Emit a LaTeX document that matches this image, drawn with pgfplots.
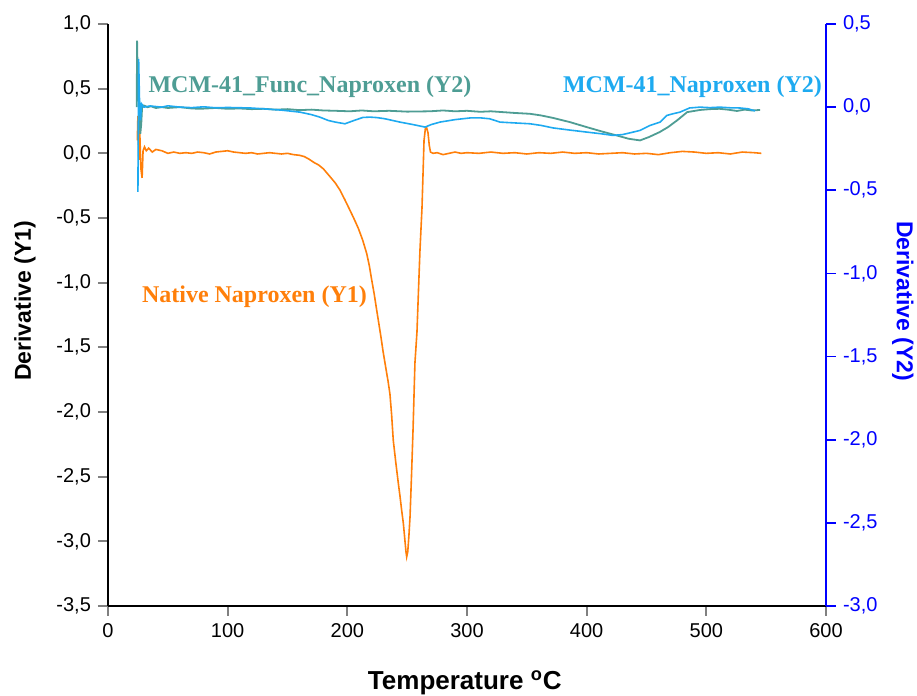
\documentclass[border=0pt]{standalone}
\usepackage{fontspec}
\setmainfont{Liberation Sans}
\newfontfamily\tms{Liberation Serif}
\usepackage{pgfplots}
\pgfplotsset{compat=1.18}

\definecolor{natcol}{HTML}{FF7F0A}
\definecolor{funccol}{HTML}{4E9D94}
\definecolor{mcmcol}{HTML}{1EAAF0}
\definecolor{y2col}{HTML}{0000FF}

\pgfplotsset{
  common/.style={
    width=359pt, height=291pt, scale only axis,
    at={(0,0)}, anchor=south west,
    xmin=0, xmax=600,
    tick align=outside, major tick length=5pt,
    tick style={line width=0.9pt},
    axis line style={line width=1pt},
    ticklabel style={font=\fontsize{10}{12}\selectfont},
    /pgf/number format/assume math mode=true,
    label style={font=\fontsize{11.5}{13}\selectfont\bfseries},
    yticklabel style={/pgf/number format/fixed, /pgf/number format/fixed zerofill,
      /pgf/number format/precision=1, /pgf/number format/use comma},
    clip=false,
  },
}

\begin{document}
\begin{tikzpicture}
% left axis (Y1)
\begin{axis}[common,
    axis x line*=bottom, axis y line*=left,
    ymin=-3.5, ymax=1.0,
    ytick={-3.5,-3,...,1.0},
    xtick={0,100,...,600},
    xlabel={Temperature \textsuperscript{o}C},
    ylabel={Derivative (Y1)},
    xlabel style={at={(axis description cs:0.497,-0.132)}, anchor=center,
      font=\fontsize{13}{15}\selectfont\bfseries},
    ylabel style={at={(axis description cs:-0.1156,0.524)}, anchor=center},
]
\addplot[natcol, line width=0.8pt] coordinates {
(24.5,0.10)(25.0,0.29)(25.8,-0.05)(26.5,0.18)(27.5,-0.12)(28.5,-0.19)(29.3,0.02)
(30.5,0.05)(32,0.02)(34,0.04)(37,0.01)(40,0.03)(45,0.02)(50,0.0)(55,0.01)(60,0.0)
(65,0.005)(70,0.0)(75,0.01)(80,0.005)(85,-0.005)(90,0.01)(95,0.015)(100,0.02)
(105,0.01)(110,0.005)(115,0.0)(120,0.005)(125,-0.005)(130,0.0)(135,0.005)(140,0.0)
(145,-0.005)(150,0.0)(155,-0.01)(160,-0.015)(164,-0.025)(168,-0.045)(172,-0.07)
(176,-0.09)(180,-0.12)(185.5,-0.18)(190,-0.23)(193.9,-0.285)(198,-0.36)(202.2,-0.44)
(205.8,-0.51)(209.2,-0.58)(212.8,-0.67)(216.2,-0.775)(218.4,-0.87)(220.4,-0.98)
(222.5,-1.09)(224.5,-1.21)(226.4,-1.32)(228.1,-1.42)(230,-1.54)(232,-1.65)
(234,-1.76)(235.6,-1.86)(237,-2.02)(238.4,-2.22)(240.5,-2.39)(242.6,-2.55)
(244,-2.65)(245.4,-2.76)(246.8,-2.86)(248,-2.98)(249,-3.08)(249.6,-3.12)
(250.5,-3.08)(251.5,-2.95)(252.4,-2.81)(253.6,-2.50)(254.9,-2.14)(256.5,-1.62)
(258.2,-1.38)(259.5,-1.05)(260.7,-0.75)(262.4,-0.42)(264.1,0.10)(265.2,0.19)(266.2,0.20)
(267.4,0.16)(268.5,0.06)(269.5,0.01)(271.6,0.0)(275,0.005)(280,-0.01)(285,0.0)
(290,0.01)(295,0.0)(300,0.005)(310,0.0)(320,0.01)(330,0.0)(340,0.005)(350,-0.005)
(360,0.005)(370,0.0)(380,0.01)(390,0.0)(400,0.005)(410,-0.005)(420,0.0)(430,0.005)
(440,-0.005)(450,0.0)(460,-0.01)(470,0.005)(480,0.015)(490,0.01)(500,0.0)(510,0.005)
(520,-0.005)(530,0.01)(540,0.005)(546,0.0)
};
\node[text=natcol, font=\tms\bfseries\fontsize{12}{14}\selectfont] at (axis cs:122.4,-1.106) {Native Naproxen (Y1)};
\node[text=funccol, font=\tms\bfseries\fontsize{12}{14}\selectfont] at (axis cs:168.8,0.518) {MCM-41\_Func\_Naproxen (Y2)};
\node[text=mcmcol, font=\tms\bfseries\fontsize{12}{14}\selectfont] at (axis cs:488.4,0.518) {MCM-41\_Naproxen (Y2)};
\end{axis}

% right axis (Y2)
\begin{axis}[common,
    axis x line=none, axis y line*=right,
    ymin=-3.0, ymax=0.5,
    ytick={-3,-2.5,...,0.5},
    axis line style={y2col, line width=1pt},
    ytick style={y2col},
    yticklabel style={/tikz/text=y2col},
    ylabel={Derivative (Y2)},
    ylabel style={text=y2col, at={(axis description cs:1.107,0.524)}, anchor=center, rotate=180},
]
\addplot[funccol, line width=0.9pt] coordinates {
(24.0,0.0)(24.3,0.40)(25.0,0.10)(26.0,0.02)(27.0,-0.16)(27.8,-0.10)(28.5,0.0)
(30,0.01)(33,0.0)(36,0.005)(40,-0.005)(45,0.0)(50,-0.005)(60,0.0)(70,-0.008)
(77,-0.01)(90,-0.005)(100,-0.01)(110,-0.008)(120,-0.012)(130,-0.01)(140,-0.015)
(150,-0.012)(160,-0.018)(170,-0.015)(180,-0.02)(190,-0.022)(202,-0.025)(212,-0.02)
(222,-0.025)(235,-0.022)(250,-0.027)(269,-0.025)(280,-0.02)(290,-0.025)(300,-0.022)
(311,-0.028)(320,-0.025)(330,-0.03)(340,-0.035)(352.6,-0.04)(362,-0.05)(372,-0.065)
(386,-0.09)(400,-0.12)(412,-0.145)(425,-0.17)(435,-0.19)(444.6,-0.20)(452,-0.18)
(461,-0.15)(468,-0.12)(475.5,-0.08)(484,-0.03)(494.7,-0.017)(503,-0.012)(511,-0.01)
(518,-0.015)(525.6,-0.023)(532,-0.015)(538,-0.02)(545,-0.017)
};
\addplot[mcmcol, line width=0.8pt] coordinates {
(25.0,-0.51)(25.6,0.29)(26.3,0.05)(27.2,-0.08)(28,0.02)(30,0.0)(35.1,0.007)
(45,0.0)(50,0.008)(60.2,0.0)(70,-0.003)(80,0.002)(90,-0.004)(100,-0.002)
(118.7,-0.005)(130,-0.01)(145,-0.018)(160.4,-0.03)(170,-0.045)(177,-0.06)
(184,-0.08)(190,-0.09)(198,-0.10)(206.4,-0.078)(213,-0.062)(219,-0.06)(225,-0.063)
(231.5,-0.07)(244,-0.09)(255,-0.105)(265,-0.12)(270,-0.105)(277.4,-0.09)(290,-0.075)
(302.5,-0.065)(312,-0.065)(319,-0.07)(327.6,-0.09)(340,-0.095)(352.6,-0.10)
(362,-0.11)(371.9,-0.125)(386,-0.138)(400,-0.15)(412,-0.16)(422,-0.17)(430,-0.165)
(436,-0.155)(444.6,-0.14)(453,-0.11)(461.3,-0.09)(467,-0.05)(472,-0.04)(478,-0.03)
(486,-0.005)(494.7,0.0)(503,-0.003)(511.4,0.0)(520,-0.004)(528,-0.005)(535,-0.01)
(540.7,-0.023)
};
\end{axis}
\pgfresetboundingbox
\path[use as bounding box] (-54pt,-45pt) rectangle (404.5pt,303pt);
\end{tikzpicture}
\end{document}
